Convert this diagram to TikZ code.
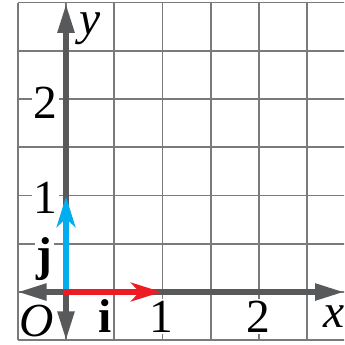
\documentclass[tikz,border=0pt]{standalone}
\usepackage{fontspec}
\setmainfont{Liberation Serif}
\usetikzlibrary{arrows.meta}
\definecolor{axisgray}{HTML}{58595B}
\definecolor{gridgray}{HTML}{7A7A7A}
\definecolor{vecred}{HTML}{ED1C24}
\definecolor{vecblue}{HTML}{00AEEF}
\tikzset{
  gridline/.style={draw=gridgray, line width=1pt},
  axisline/.style={draw=axisgray, line width=3pt, {Triangle[length=17pt,width=9.5pt]}-{Triangle[length=17pt,width=9.5pt]}},
  vecline/.style={line width=3.8pt, line cap=rect, -{Stealth[length=18pt,width=11pt,inset=5pt]}},
  lbl/.style={font=\fontsize{28}{32}\selectfont, inner sep=1pt},
  wlbl/.style={lbl, fill=white}
}
\begin{document}
\begin{tikzpicture}
\useasboundingbox (-1.368,-1.098) rectangle (5.762,6.052);
\begin{scope}
\clip (-1.368,-1.098) rectangle (5.762,6.052);
\draw[gridline] (-1,-1) grid (5.9,6);
\end{scope}
% axis end points
\coordinate (xl) at (-1.0,0);
\coordinate (xr) at (5.76,0);
\coordinate (yb) at (0,-1.0);
\coordinate (yt) at (0,5.97);
\coordinate (O) at (0,0);
\coordinate (I) at (1.98,0);
\coordinate (J) at (0,1.98);
% labels
\node[wlbl] (y2) at (-0.43,3.93) {2};
\node[wlbl] (y1) at (-0.42,1.95) {1};
\node[wlbl, anchor=base] (jl) at (-0.45,0.44) {\textbf{j}};
\node[wlbl, anchor=base] (x1) at (1.97,-0.83) {1};
\node[wlbl, anchor=base] (x2) at (3.98,-0.83) {2};
\node[lbl, anchor=base] (il) at (0.81,-0.83) {\textbf{i}};
\node[lbl] (Ol) at (-0.6,-0.6) {\textit{O}};
\node[lbl] (yl) at (0.5,5.45) {\textit{y}};
\node[lbl, anchor=base] (xlab) at (5.55,-0.74) {\textit{x}};
% axes
\draw[axisline] (xl) -- (xr);
\draw[axisline] (yb) -- (yt);
% vectors
\draw[vecline, vecblue] (O) -- (J);
\draw[vecline, vecred] (O) -- (I);
\end{tikzpicture}
\end{document}
